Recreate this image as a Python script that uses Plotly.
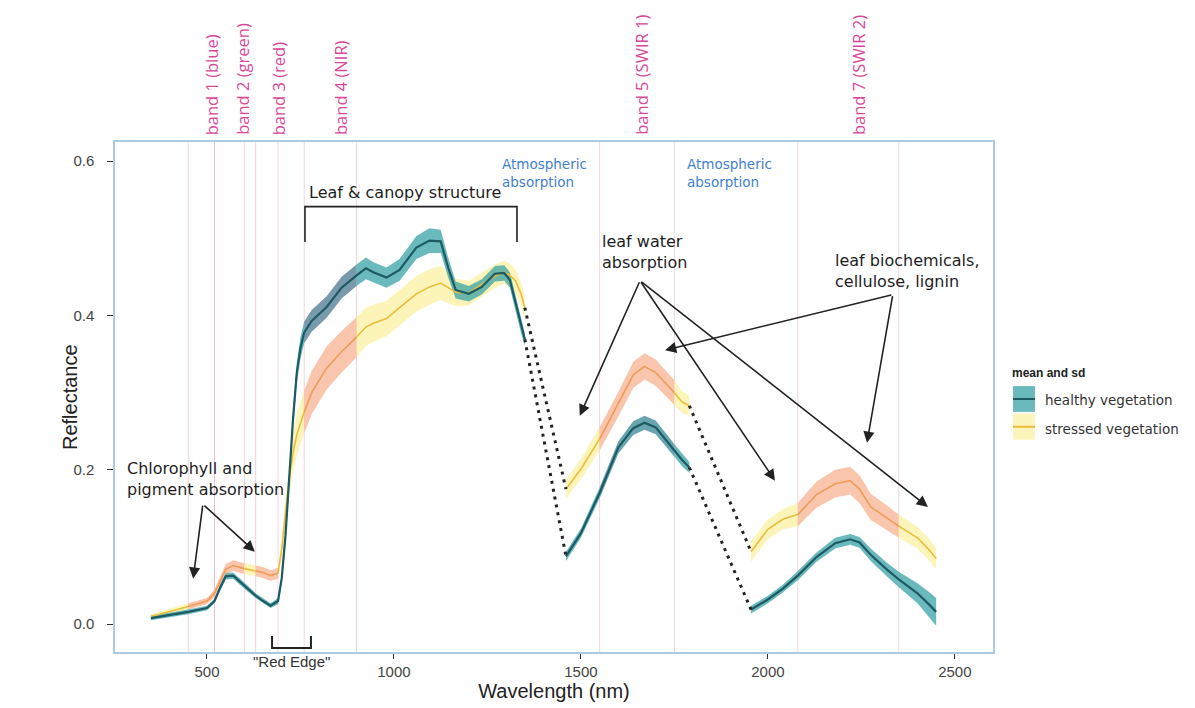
import plotly.graph_objects as go

# ---------------- data ----------------
# Segment 1: visible / NIR
wl_vnir = [350, 400, 450, 500, 520, 535, 550, 570, 600, 630, 650, 670, 690, 700, 710, 720, 730, 740, 750, 760,
           780, 820, 860, 900, 925, 945, 980, 1015, 1060, 1095, 1125, 1145, 1165, 1200, 1235, 1270, 1295, 1310,
           1325, 1340, 1350]
healthy_vnir = [0.008, 0.012, 0.016, 0.021, 0.030, 0.047, 0.062, 0.063, 0.050, 0.037, 0.030, 0.024, 0.030, 0.060,
                0.115, 0.195, 0.265, 0.325, 0.358, 0.378, 0.393, 0.411, 0.436, 0.452, 0.461, 0.456, 0.449, 0.459,
                0.488, 0.497, 0.496, 0.462, 0.433, 0.428, 0.437, 0.454, 0.455, 0.446, 0.416, 0.386, 0.369]
healthy_sd_vnir = [0.003, 0.003, 0.003, 0.003, 0.003, 0.004, 0.004, 0.004, 0.004, 0.003, 0.003, 0.003, 0.004, 0.005,
                   0.008, 0.010, 0.012, 0.013, 0.014, 0.014, 0.014, 0.014, 0.014, 0.014, 0.014, 0.013, 0.013, 0.014,
                   0.015, 0.016, 0.015, 0.013, 0.011, 0.010, 0.010, 0.010, 0.010, 0.010, 0.010, 0.009, 0.008]
stressed_vnir = [0.010, 0.016, 0.023, 0.030, 0.040, 0.056, 0.071, 0.076, 0.072, 0.069, 0.067, 0.063, 0.066, 0.098,
                 0.145, 0.190, 0.222, 0.245, 0.260, 0.275, 0.300, 0.332, 0.353, 0.372, 0.385, 0.390, 0.396, 0.410,
                 0.428, 0.437, 0.442, 0.436, 0.430, 0.429, 0.440, 0.451, 0.456, 0.452, 0.445, 0.428, 0.410]
stressed_sd_vnir = [0.003, 0.004, 0.004, 0.004, 0.005, 0.006, 0.007, 0.007, 0.007, 0.007, 0.007, 0.007, 0.007,
                    0.010, 0.016, 0.021, 0.025, 0.027, 0.028, 0.028, 0.028, 0.028, 0.027, 0.026, 0.025, 0.024,
                    0.023, 0.023, 0.023, 0.023, 0.022, 0.020, 0.018, 0.016, 0.015, 0.015, 0.015, 0.015, 0.015,
                    0.015, 0.015]

# Segment 2: SWIR 1
wl_swir1 = [1460, 1500, 1550, 1600, 1640, 1670, 1700, 1750, 1770, 1790]
healthy_swir1 = [0.088, 0.118, 0.170, 0.229, 0.254, 0.261, 0.255, 0.225, 0.213, 0.203]
healthy_sd_swir1 = [0.006, 0.006, 0.007, 0.008, 0.009, 0.009, 0.009, 0.008, 0.008, 0.007]
stressed_swir1 = [0.175, 0.201, 0.240, 0.285, 0.323, 0.334, 0.326, 0.300, 0.288, 0.283]
stressed_sd_swir1 = [0.012, 0.013, 0.015, 0.016, 0.017, 0.017, 0.017, 0.016, 0.014, 0.013]

# Segment 3: SWIR 2
wl_swir2 = [1955, 2000, 2040, 2080, 2130, 2180, 2220, 2245, 2275, 2320, 2350, 2400, 2430, 2450]
healthy_swir2 = [0.019, 0.032, 0.046, 0.063, 0.087, 0.105, 0.110, 0.106, 0.090, 0.070, 0.058, 0.040, 0.026, 0.016]
healthy_sd_swir2 = [0.005, 0.005, 0.005, 0.006, 0.006, 0.007, 0.007, 0.007, 0.008, 0.009, 0.010, 0.013, 0.016, 0.018]
stressed_swir2 = [0.094, 0.123, 0.136, 0.142, 0.168, 0.182, 0.186, 0.175, 0.152, 0.137, 0.127, 0.112, 0.097, 0.085]
stressed_sd_swir2 = [0.013, 0.013, 0.013, 0.015, 0.017, 0.018, 0.018, 0.018, 0.017, 0.016, 0.015, 0.014, 0.014, 0.014]

# Landsat bands
band_names = ["band 1 (blue)", "band 2 (green)", "band 3 (red)", "band 4 (NIR)", "band 5 (SWIR 1)", "band 7 (SWIR 2)"]
band_lo = [450, 520, 630, 760, 1550, 2080]
band_hi = [520, 600, 690, 900, 1750, 2350]

x_ticks = [500, 1000, 1500, 2000, 2500]
y_ticks = [0.0, 0.2, 0.4, 0.6]

# ---------------- layout constants ----------------
OFF = 8                      # page body margin
W, H = 1195 - OFF, 708 - OFF
L, R, T, B = 115, 993, 142, 656   # plot area in page pixels
band_label_pos = [513, 593, 692, 857, 1660, 2241]


def px(xp):
    return (xp - L) / (R - L)


def py(yp):
    return (B - yp) / (B - T)


H_FILL = {-1: "rgba(48,158,162,0.72)", 3: "rgba(88,128,152,0.80)", 4: "rgba(62,140,155,0.78)"}
S_FILL_OUT = "rgba(253,241,168,0.80)"
S_FILL_IN = "rgba(246,176,142,0.72)"
S_LINE_OUT = "#ebbd3c"
S_LINE_IN = "#ee9c58"
H_LINE = "#1d5a63"


def region_of(a, b):
    mid = (a + b) / 2
    for i, (lo, hi) in enumerate(zip(band_lo, band_hi)):
        if lo <= mid <= hi:
            return i
    return -1


def runs(w):
    out = []
    for i in range(len(w) - 1):
        r = region_of(w[i], w[i + 1])
        if out and out[-1][0] == r:
            out[-1][2] = i + 1
        else:
            out.append([r, i, i + 1])
    return out


fig = go.Figure()

segments = [
    (wl_vnir, healthy_vnir, healthy_sd_vnir, stressed_vnir, stressed_sd_vnir),
    (wl_swir1, healthy_swir1, healthy_sd_swir1, stressed_swir1, stressed_sd_swir1),
    (wl_swir2, healthy_swir2, healthy_sd_swir2, stressed_swir2, stressed_sd_swir2),
]


def ribbon(w, m, sd, s, e, color):
    xs = list(w[s:e + 1]) + list(w[s:e + 1])[::-1]
    up = [m[i] + sd[i] for i in range(s, e + 1)]
    lo = [m[i] - sd[i] for i in range(s, e + 1)][::-1]
    fig.add_trace(go.Scatter(x=xs, y=up + lo, fill="toself", fillcolor=color, mode="lines",
                             line=dict(width=0), hoverinfo="skip", showlegend=False))


# stressed ribbons
for w, hm, hs, sm, ss in segments:
    for r, s, e in runs(w):
        ribbon(w, sm, ss, s, e, S_FILL_IN if r >= 0 else S_FILL_OUT)
# healthy ribbons
for w, hm, hs, sm, ss in segments:
    for r, s, e in runs(w):
        ribbon(w, hm, hs, s, e, H_FILL.get(r, H_FILL[-1]))
# stressed lines
for w, hm, hs, sm, ss in segments:
    for r, s, e in runs(w):
        fig.add_trace(go.Scatter(x=w[s:e + 1], y=sm[s:e + 1], mode="lines",
                                 line=dict(color=S_LINE_IN if r >= 0 else S_LINE_OUT, width=1.6),
                                 hoverinfo="skip", showlegend=False))
# healthy lines
for w, hm, hs, sm, ss in segments:
    fig.add_trace(go.Scatter(x=w, y=hm, mode="lines", line=dict(color=H_LINE, width=2.2),
                             name="healthy vegetation", showlegend=False))

# dotted connectors across atmospheric absorption gaps
for (wa, ha, _, sa, _), (wb, hb, _, sb, _) in [(segments[0], segments[1]), (segments[1], segments[2])]:
    for ya, yb in [(ha[-1], hb[0]), (sa[-1], sb[0])]:
        fig.add_trace(go.Scatter(x=[wa[-1], wb[0]], y=[ya, yb], mode="lines",
                                 line=dict(color="#222222", width=3, dash="3px,5px"),
                                 hoverinfo="skip", showlegend=False))

shapes = []
annotations = []

# band edge lines
for lo, hi in zip(band_lo, band_hi):
    for xv in (lo, hi):
        shapes.append(dict(type="line", xref="x", yref="paper", x0=xv, x1=xv, y0=0, y1=1,
                           line=dict(color="rgba(232,160,180,0.45)", width=1), layer="below"))

# band labels
for name, xv in zip(band_names, band_label_pos):
    annotations.append(dict(x=xv, y=1, xref="x", yref="paper", text=name, textangle=-90,
                            showarrow=False, xanchor="center", yanchor="bottom", yshift=5,
                            font=dict(family="Open Sans", size=16.5, color="#d9479a")))

ANN_FONT = dict(family="DejaVu Sans", size=16, color="#1e1e1e")
BLUE_FONT = dict(family="DejaVu Sans", size=13.5, color="#3f7fd0")

# Leaf & canopy structure
annotations.append(dict(x=1029, y=0.559, xref="x", yref="y", text="Leaf & canopy structure",
                        showarrow=False, yanchor="middle", font=ANN_FONT))
shapes.append(dict(type="path", xref="x", yref="y", path="M 762,0.495 L 762,0.541 L 1329,0.541 L 1329,0.495",
                   line=dict(color="#222222", width=1.6)))

# Atmospheric absorption
for xv in (1283, 1778):
    annotations.append(dict(x=xv, y=0.584, xref="x", yref="y", text="Atmospheric<br>absorption",
                            showarrow=False, xanchor="left", yanchor="middle", align="left", font=BLUE_FONT))

# Chlorophyll
annotations.append(dict(x=281, y=0.188, xref="x", yref="y", text="Chlorophyll and<br>pigment absorption",
                        showarrow=False, xanchor="left", yanchor="middle", align="left", font=ANN_FONT))
# leaf water
annotations.append(dict(x=1551, y=0.482, xref="x", yref="y", text="leaf water<br>absorption",
                        showarrow=False, xanchor="left", yanchor="middle", align="left", font=ANN_FONT))
# leaf biochemicals
annotations.append(dict(x=2174, y=0.458, xref="x", yref="y", text="leaf biochemicals,<br>cellulose, lignin",
                        showarrow=False, xanchor="left", yanchor="middle", align="left", font=ANN_FONT))

arrows = [
    ((489, 0.1555), (463, 0.059)),
    ((489, 0.1555), (628, 0.094)),
    ((1658, 0.445), (1497, 0.270)),
    ((1658, 0.445), (2019, 0.186)),
    ((1658, 0.445), (2428, 0.152)),
    ((2334, 0.427), (1725, 0.355)),
    ((2334, 0.427), (2265, 0.235)),
]
for (tx, ty), (hx, hy) in arrows:
    annotations.append(dict(x=hx, y=hy, ax=tx, ay=ty, xref="x", yref="y", axref="x", ayref="y",
                            text="", showarrow=True, arrowhead=2, arrowsize=1.4, arrowwidth=1.6,
                            arrowcolor="#222222", standoff=0, startstandoff=0))

# Red Edge bracket
shapes.append(dict(type="path", xref="x", yref="paper",
                   path=f"M 674,{py(640)} L 674,{py(652)} L 778,{py(652)} L 778,{py(640)}",
                   line=dict(color="#222222", width=2)))
annotations.append(dict(x=726, y=py(666), xref="x", yref="paper", text="\"Red Edge\"", showarrow=False,
                        xanchor="center", yanchor="middle",
                        font=dict(family="Liberation Sans", size=15, color="#333333")))

# axis title (y) placed explicitly
annotations.append(dict(x=px(70), y=py(399), xref="paper", yref="paper", text="Reflectance", textangle=-90,
                        showarrow=False, xanchor="center", yanchor="middle",
                        font=dict(family="Liberation Sans", size=20, color="#222")))

# manual legend
LEG_FONT = dict(family="DejaVu Sans", size=13.5, color="#333")
annotations.append(dict(x=px(1010), y=py(375), xref="paper", yref="paper", text="<b>mean and sd</b>",
                        showarrow=False, xanchor="left", yanchor="middle",
                        font=dict(family="Liberation Sans", size=12, color="#222")))
shapes.append(dict(type="rect", xref="paper", yref="paper", x0=px(1013), x1=px(1035), y0=py(414), y1=py(388),
                   fillcolor="rgba(48,158,162,0.72)", line=dict(width=0)))
shapes.append(dict(type="line", xref="paper", yref="paper", x0=px(1013), x1=px(1035), y0=py(401), y1=py(401),
                   line=dict(color=H_LINE, width=2)))
shapes.append(dict(type="rect", xref="paper", yref="paper", x0=px(1013), x1=px(1035), y0=py(442), y1=py(416),
                   fillcolor=S_FILL_OUT, line=dict(width=0)))
shapes.append(dict(type="line", xref="paper", yref="paper", x0=px(1013), x1=px(1035), y0=py(429), y1=py(429),
                   line=dict(color=S_LINE_OUT, width=2)))
annotations.append(dict(x=px(1043), y=py(402), xref="paper", yref="paper", text="healthy vegetation",
                        showarrow=False, xanchor="left", yanchor="middle", font=LEG_FONT))
annotations.append(dict(x=px(1043), y=py(431), xref="paper", yref="paper", text="stressed vegetation",
                        showarrow=False, xanchor="left", yanchor="middle", font=LEG_FONT))

fig.update_layout(
    width=W, height=H,
    margin=dict(l=L - OFF, r=1195 - R, t=T - OFF, b=708 - B),
    paper_bgcolor="white", plot_bgcolor="white",
    showlegend=False,
    shapes=shapes, annotations=annotations,
    font=dict(family="Liberation Sans", color="#333"),
)
fig.update_xaxes(range=[254, 2602], tickvals=x_ticks, ticks="outside", ticklen=5, tickwidth=1.3,
                 tickcolor="#333", showline=True, mirror=True, linecolor="#a9cbe3", linewidth=1.5,
                 showgrid=False, zeroline=False, tickfont=dict(size=15, color="#444"),
                 title=dict(text="Wavelength (nm)", font=dict(size=20, color="#222"), standoff=2))
fig.update_yaxes(range=[-0.036, 0.6247], tickvals=y_ticks, tickformat=".1f", ticks="outside", ticklen=6,
                 tickwidth=1.3, tickcolor="#333", showline=True, mirror=True, linecolor="#a9cbe3",
                 linewidth=1.5, showgrid=False, zeroline=False, tickfont=dict(size=15, color="#444"),
                 ticklabelstandoff=10)

fig.write_html("out.html")
